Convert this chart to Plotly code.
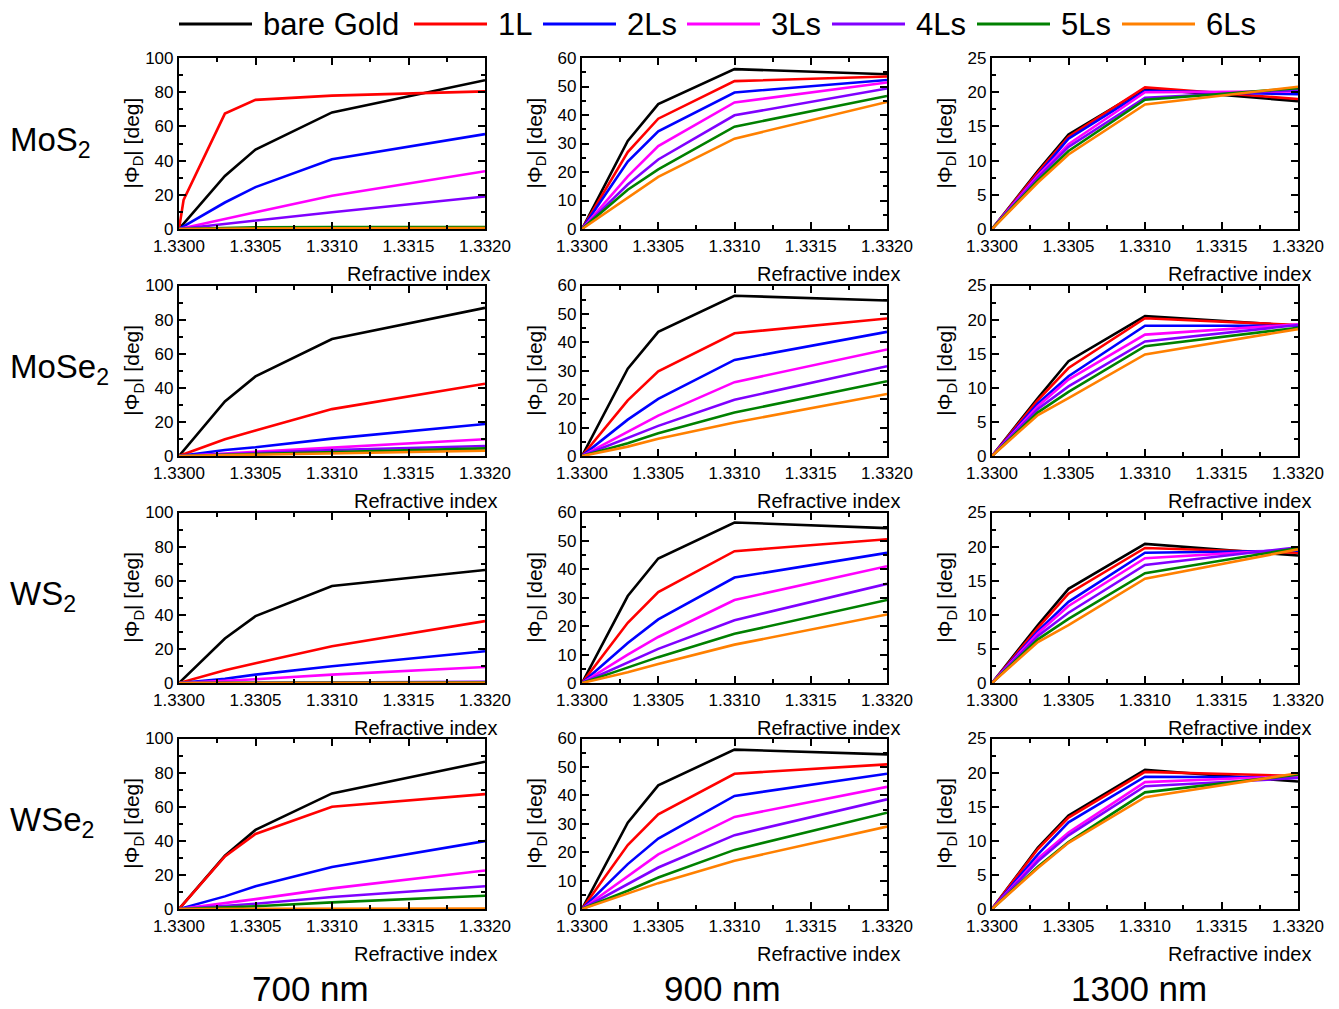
import plotly.graph_objects as go

# Refractive index sample points shared by every curve
N = [1.3300, 1.3303, 1.3305, 1.3310, 1.3320]
# The 1L curve of MoS2 at 700 nm has one extra point right after the start
MOS2_700_1L_N = [1.3300, 1.33003, 1.3303, 1.3305, 1.3310, 1.3320]

SERIES = ["bare Gold", "1L", "2Ls", "3Ls", "4Ls", "5Ls", "6Ls"]
COLORS = ["#000000", "#ff0000", "#0000ff", "#ff00ff", "#8000ff", "#008000", "#ff8000"]

MATERIALS = ["MoS<sub>2</sub>", "MoSe<sub>2</sub>", "WS<sub>2</sub>", "WSe<sub>2</sub>"]
WAVELENGTHS = ["700 nm", "900 nm", "1300 nm"]
Y_MAX = [100, 60, 25]
Y_STEP = [20, 10, 5]
X_TICKS = [1.3300, 1.3305, 1.3310, 1.3315, 1.3320]

# |Phi_D| [deg], one list per series in SERIES order
MOS2_700 = [
    [0, 31, 46.5, 68.2, 87],
    [0, 17, 67.5, 75.5, 78, 80.5],
    [0, 15.5, 24.5, 40.8, 55.5],
    [0, 6, 9.8, 19.5, 33.8],
    [0, 3, 5, 9.8, 19],
    [0, 0.8, 1, 1.1, 1.2],
    [0, 0.2, 0.3, 0.4, 0.5],
]
MOS2_900 = [
    [0, 30.9, 43.8, 56.1, 54.3],
    [0, 27, 38.7, 51.9, 53.5],
    [0, 23.7, 34.3, 47.9, 52.3],
    [0, 18.5, 29.1, 44.4, 51.4],
    [0, 15.6, 24.4, 39.9, 49.3],
    [0, 13.8, 20.9, 35.9, 46.7],
    [0, 10.9, 18.3, 31.7, 44.6],
]
MOS2_1300 = [
    [0, 8.5, 13.8, 20.5, 18.7],
    [0, 8.3, 13.5, 20.7, 19.0],
    [0, 8.0, 13.2, 20.2, 19.7],
    [0, 7.8, 12.4, 20.0, 20.1],
    [0, 7.5, 12.0, 19.2, 20.3],
    [0, 7.1, 11.4, 18.9, 20.6],
    [0, 6.8, 10.9, 18.2, 20.8],
]
MOSE2_700 = [
    [0, 32, 46.7, 68.6, 86.9],
    [0, 9.8, 14.9, 27.5, 42.4],
    [0, 3.5, 5.1, 10.2, 18.8],
    [0, 1.5, 2.5, 5.1, 9.8],
    [0, 1, 1.7, 3.5, 5.9],
    [0, 0.7, 1.2, 2.5, 4.5],
    [0, 0.5, 0.8, 1.7, 3.1],
]
MOSE2_900 = [
    [0, 30.7, 43.7, 56.4, 54.7],
    [0, 19.6, 29.8, 43.2, 48.4],
    [0, 12.8, 20.1, 33.8, 43.7],
    [0, 8.6, 14.2, 26.0, 37.5],
    [0, 6.3, 10.6, 19.8, 31.6],
    [0, 4.5, 8.0, 15.3, 26.3],
    [0, 3.3, 6.1, 11.8, 21.8],
]
MOSE2_1300 = [
    [0, 8.5, 13.9, 20.5, 19.1],
    [0, 8.2, 12.9, 20.2, 19.2],
    [0, 7.7, 11.7, 19.1, 19.1],
    [0, 7.3, 11.2, 17.8, 19.3],
    [0, 6.9, 10.2, 16.8, 19.2],
    [0, 6.4, 9.4, 16.1, 18.8],
    [0, 6.0, 8.5, 14.9, 18.6],
]
WS2_700 = [
    [0, 26.1, 39.2, 56.9, 66.3],
    [0, 7.5, 11.6, 21.6, 36.3],
    [0, 2.5, 4.9, 9.8, 18.6],
    [0, 1.2, 2.2, 4.9, 9.4],
    [0, 0.1, 0.2, 0.4, 0.7],
    [0, 0, 0.1, 0.2, 0.3],
    [0, 0, 0, 0.1, 0.1],
]
WS2_900 = [
    [0, 30.6, 43.8, 56.5, 54.5],
    [0, 21.2, 32.0, 46.4, 50.6],
    [0, 14.1, 22.4, 37.1, 45.8],
    [0, 10.0, 16.2, 29.2, 41.1],
    [0, 7.1, 12.0, 22.1, 34.9],
    [0, 5.3, 9.1, 17.3, 29.2],
    [0, 3.8, 6.7, 13.5, 24.1],
]
WS2_1300 = [
    [0, 8.5, 13.8, 20.4, 18.7],
    [0, 8.1, 13.1, 19.8, 19.1],
    [0, 7.6, 11.9, 19.1, 19.4],
    [0, 7.3, 11.3, 18.3, 19.6],
    [0, 6.9, 10.3, 17.3, 19.9],
    [0, 6.4, 9.4, 16.1, 19.8],
    [0, 6.0, 8.5, 15.3, 19.6],
]
WSE2_700 = [
    [0, 31.2, 46.4, 67.8, 86.4],
    [0, 30.8, 44.0, 60.0, 67.4],
    [0, 7.4, 13.3, 24.6, 39.8],
    [0, 3.5, 5.8, 12.1, 22.6],
    [0, 2.0, 3.1, 7.0, 13.3],
    [0, 1.0, 1.6, 3.9, 7.8],
    [0, 0, 0.1, 0.2, 0.3],
]
WSE2_900 = [
    [0, 30.4, 43.5, 56.1, 54.4],
    [0, 22.5, 33.3, 47.6, 50.9],
    [0, 15.8, 24.8, 39.8, 47.6],
    [0, 11.7, 19.2, 32.4, 43.0],
    [0, 8.8, 14.6, 26.0, 38.6],
    [0, 6.4, 11.1, 20.8, 33.9],
    [0, 5.3, 9.1, 17.0, 29.0],
]
WSE2_1300 = [
    [0, 9.0, 13.7, 20.4, 18.7],
    [0, 8.8, 13.4, 20.1, 19.5],
    [0, 8.0, 12.7, 19.4, 19.3],
    [0, 7.4, 11.2, 18.6, 19.5],
    [0, 7.0, 10.8, 18.0, 19.2],
    [0, 6.2, 9.8, 17.1, 19.7],
    [0, 6.0, 9.7, 16.4, 19.9],
]

PANELS = [
    [MOS2_700, MOS2_900, MOS2_1300],
    [MOSE2_700, MOSE2_900, MOSE2_1300],
    [WS2_700, WS2_900, WS2_1300],
    [WSE2_700, WSE2_900, WSE2_1300],
]

# ---- page geometry (pixels) ----
W, H = 1339, 1009
COL_L = [179, 582, 992]
COL_R = [485, 887, 1298]
ROW_T = [58, 285.5, 512.5, 738.5]
ROW_B = [229, 456, 683, 909]
FONT = "Liberation Sans, Arial, sans-serif"


def fx(px):
    return px / W


def fy(py):
    return 1 - py / H


fig = go.Figure()
annotations = []
shapes = []

for r in range(4):
    for c in range(3):
        idx = r * 3 + c + 1
        xa = "x" if idx == 1 else f"x{idx}"
        ya = "y" if idx == 1 else f"y{idx}"
        for s, vals in enumerate(PANELS[r][c]):
            xs = MOS2_700_1L_N if len(vals) == len(MOS2_700_1L_N) else N
            fig.add_trace(go.Scatter(
                x=xs, y=vals, mode="lines", name=SERIES[s],
                line=dict(color=COLORS[s], width=2.6),
                xaxis=xa, yaxis=ya, showlegend=False,
            ))
        axis_common = dict(
            showline=True, linecolor="black", linewidth=2.2, mirror="allticks",
            ticks="inside", ticklen=7, tickwidth=2, tickcolor="black",
            showgrid=False, zeroline=False, automargin=False,
            tickfont=dict(family=FONT, size=17, color="black"),
        )
        fig.layout[("xaxis" if idx == 1 else f"xaxis{idx}")] = dict(
            domain=[fx(COL_L[c]), fx(COL_R[c])], anchor=ya,
            range=[1.3300, 1.3320], tickvals=X_TICKS, tickformat=".4f",
            minor=dict(ticks="inside", ticklen=4, tickwidth=2, tickcolor="black",
                       dtick=0.00025, tick0=1.33, showgrid=False),
            **axis_common,
        )
        fig.layout[("yaxis" if idx == 1 else f"yaxis{idx}")] = dict(
            domain=[fy(ROW_B[r]), fy(ROW_T[r])], anchor=xa,
            range=[0, Y_MAX[c]], dtick=Y_STEP[c], tick0=0,
            minor=dict(ticks="inside", ticklen=4, tickwidth=2, tickcolor="black",
                       dtick=Y_STEP[c] / 2, showgrid=False),
            **axis_common,
        )
        # y-axis title
        annotations.append(dict(
            text="|Φ<sub>D</sub>| [deg]", textangle=-90,
            x=fx(COL_L[c] - 46), y=fy((ROW_T[r] + ROW_B[r]) / 2),
            xref="paper", yref="paper", xanchor="center", yanchor="middle",
            showarrow=False, font=dict(family=FONT, size=21, color="black"),
        ))
        # x-axis title, right aligned under each panel
        right = COL_R[c] + (7 if c == 0 and r == 0 else (14 if c == 0 else 15))
        annotations.append(dict(
            text="Refractive index",
            x=fx(right), y=fy(ROW_B[r] + 45),
            xref="paper", yref="paper", xanchor="right", yanchor="middle",
            showarrow=False, font=dict(family=FONT, size=20, color="black"),
        ))

# material labels on the left
for r, name in enumerate(MATERIALS):
    annotations.append(dict(
        text=name, x=fx(8), y=fy((ROW_T[r] + ROW_B[r]) / 2 - 2),
        xref="paper", yref="paper", xanchor="left", yanchor="middle",
        showarrow=False, font=dict(family=FONT, size=33, color="black"),
    ))

# wavelength labels at the bottom
WL_X = [310, 722, 1139]
for c, wl in enumerate(WAVELENGTHS):
    annotations.append(dict(
        text=wl, x=fx(WL_X[c]), y=fy(988),
        xref="paper", yref="paper", xanchor="center", yanchor="middle",
        showarrow=False, borderpad=0,
        font=dict(family=FONT, size=35, color="black"),
    ))

# legend row across the top
LEG_X = [179, 414, 543, 687, 832, 977, 1122]
LEG_LEN = 73
LEG_Y = 24
for s, name in enumerate(SERIES):
    x0 = LEG_X[s]
    shapes.append(dict(
        type="line", xref="paper", yref="paper",
        x0=fx(x0), x1=fx(x0 + LEG_LEN), y0=fy(LEG_Y), y1=fy(LEG_Y),
        line=dict(color=COLORS[s], width=3),
    ))
    annotations.append(dict(
        text=name, x=fx(x0 + LEG_LEN + 9), y=fy(LEG_Y + 1),
        xref="paper", yref="paper", xanchor="left", yanchor="middle",
        showarrow=False, font=dict(family=FONT, size=31, color="black"),
    ))

fig.update_layout(
    width=W, height=H,
    margin=dict(l=0, r=0, t=0, b=0),
    paper_bgcolor="white", plot_bgcolor="white",
    font=dict(family=FONT, color="black"),
    showlegend=False,
    annotations=annotations, shapes=shapes,
)

fig.write_html("out.html")
